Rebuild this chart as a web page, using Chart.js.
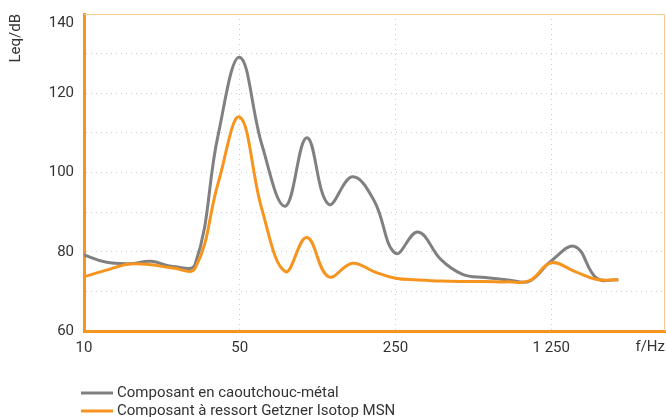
<!DOCTYPE html>
<html>
<head>
<meta charset="utf-8">
<script src="https://cdn.jsdelivr.net/npm/chart.js@4.4.1/dist/chart.umd.min.js"></script>
<style>
  html, body { margin: 0; padding: 0; background: #ffffff; }
  #wrap { position: relative; width: 666px; height: 417px; }
</style>
</head>
<body>
<div id="wrap"><canvas id="c" width="666" height="417"></canvas></div>
<script>
// ---- data ----
const frequencies = [10, 12.5, 16, 20, 25, 31.5, 40, 50, 63, 80, 100, 125, 160, 200, 250, 315, 400, 500, 630, 800, 1000, 1250, 1600, 2000, 2500];
const rubberMetal = [79.2, 77.4, 77.0, 77.6, 76.3, 76.8, 109.5, 129.1, 106.8, 91.5, 108.8, 92.0, 98.9, 93.0, 79.6, 85.0, 78.0, 74.3, 73.5, 72.9, 72.6, 77.7, 81.3, 73.3, 72.9];
const getznerSpring = [73.7, 75.3, 76.9, 76.7, 75.9, 75.8, 97.3, 114.0, 90.5, 75.0, 83.6, 73.7, 77.1, 75.0, 73.3, 72.9, 72.6, 72.5, 72.5, 72.4, 72.7, 77.2, 75.0, 73.0, 72.9];
const seriesLabels = ['Composant en caoutchouc-métal', 'Composant à ressort Getzner Isotop MSN'];
const xTickValues = [10, 50, 250, 1250];
const xTickLabels = ['10', '50', '250', '1 250'];
const yTickLabels = { 60: '60', 80: '80', 100: '100', 120: '120', 140: '140' };
const xTitle = 'f/Hz';
const yTitle = 'Leq/dB';

const GRAY = '#808080';
const ORANGE = '#f7941d';
const LIGHT_ORANGE = '#fcc98c';
const TEXT = '#333333';
const GRID = 'rgba(0,0,0,0.2)';
const FONT = 'Roboto';

const framePlugin = {
  id: 'frame',
  beforeDatasetsDraw(chart) {
    const { ctx, chartArea: a } = chart;
    ctx.save();
    ctx.strokeStyle = LIGHT_ORANGE;
    ctx.lineWidth = 1;
    ctx.beginPath();
    ctx.moveTo(a.left, Math.round(a.top) + 0.5);
    ctx.lineTo(Math.round(a.right) - 0.5, Math.round(a.top) + 0.5);
    ctx.lineTo(Math.round(a.right) - 0.5, a.bottom);
    ctx.stroke();
    ctx.restore();
  }
};

const legendPlugin = {
  id: 'customLegend',
  afterDraw(chart) {
    const { ctx } = chart;
    const rows = [393, 411];
    ctx.save();
    chart.data.datasets.forEach((ds, i) => {
      const y = rows[i];
      ctx.strokeStyle = ds.borderColor;
      ctx.lineWidth = 3;
      ctx.beginPath();
      ctx.moveTo(81, y);
      ctx.lineTo(113, y);
      ctx.stroke();
      ctx.fillStyle = TEXT;
      ctx.font = '15px ' + FONT;
      ctx.textBaseline = 'middle';
      ctx.textAlign = 'left';
      ctx.fillText(ds.label, 117, y);
    });
    ctx.restore();
  }
};

new Chart(document.getElementById('c'), {
  type: 'line',
  data: {
    datasets: [
      {
        label: seriesLabels[0],
        data: frequencies.map((f, i) => ({ x: f, y: rubberMetal[i] })),
        borderColor: GRAY,
        borderWidth: 3,
        pointRadius: 0,
        tension: 0.4,
        fill: false,
        order: 1
      },
      {
        label: seriesLabels[1],
        data: frequencies.map((f, i) => ({ x: f, y: getznerSpring[i] })),
        borderColor: ORANGE,
        borderWidth: 3,
        pointRadius: 0,
        tension: 0.4,
        fill: false,
        order: 0
      }
    ]
  },
  options: {
    responsive: false,
    animation: false,
    devicePixelRatio: 1,
    layout: { padding: { top: 14, right: 1, bottom: 61, left: 0 } },
    plugins: {
      legend: { display: false },
      tooltip: { enabled: false }
    },
    scales: {
      x: {
        type: 'logarithmic',
        min: 10,
        max: 4050,
        afterBuildTicks(scale) {
          scale.ticks = xTickValues.map(v => ({ value: v }));
        },
        afterFit(scale) { scale.height = 25; },
        ticks: {
          autoSkip: false,
          maxRotation: 0,
          padding: 8,
          color: TEXT,
          font: { family: FONT, size: 15 },
          callback(value) {
            const i = xTickValues.indexOf(value);
            return i >= 0 ? xTickLabels[i] : '';
          }
        },
        grid: {
          drawTicks: false,
          color: ctx => (ctx.tick && ctx.tick.value === 10 ? 'rgba(0,0,0,0)' : GRID),
          lineWidth: 1
        },
        border: { display: true, color: ORANGE, width: 3, dash: [1, 4] },
        title: {
          display: true,
          text: xTitle,
          align: 'end',
          color: TEXT,
          font: { family: FONT, size: 15 },
          padding: { top: 0, bottom: 0 }
        }
      },
      y: {
        min: 60,
        max: 140,
        afterFit(scale) {
          scale.width = 84;
          scale.paddingTop = 0;
          scale.paddingBottom = 0;
        },
        ticks: {
          stepSize: 10,
          padding: 10,
          color: TEXT,
          font: { family: FONT, size: 15 },
          callback(value) {
            const lbl = yTickLabels[value];
            if (!lbl) return '';
            return value === 140 ? ['', lbl] : lbl;
          }
        },
        grid: {
          drawTicks: false,
          color: ctx => (ctx.tick && (ctx.tick.value === 60 || ctx.tick.value === 140) ? 'rgba(0,0,0,0)' : GRID),
          lineWidth: 1
        },
        border: { display: true, color: ORANGE, width: 3, dash: [1, 4] },
        title: {
          display: true,
          text: yTitle,
          align: 'end',
          color: TEXT,
          font: { family: FONT, size: 15 },
          padding: { top: 7, bottom: 0 }
        }
      }
    }
  },
  plugins: [framePlugin, legendPlugin]
});
</script>
</body>
</html>
